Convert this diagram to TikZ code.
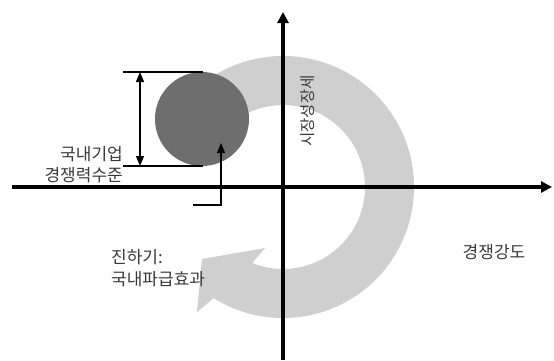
\documentclass[tikz,border=0pt]{standalone}
\usepackage{fontspec}
\setmainfont{Noto Sans CJK KR}
\usetikzlibrary{arrows.meta}
\definecolor{bandgray}{HTML}{CFCFCF}
\definecolor{dotgray}{HTML}{6E6E6E}
\definecolor{txtgray}{HTML}{3A3A3A}
\begin{document}
\begin{tikzpicture}[x=1pt,y=1pt,
  axisline/.style={line width=3.2pt,-{Triangle[length=11pt,width=11pt]}},
  thinline/.style={line width=1.1pt},
  dimarrow/.style={line width=1.4pt,{Triangle[length=10pt,width=8pt]}-{Triangle[length=10pt,width=8pt]}},
  pointer/.style={line width=1.1pt,-{Triangle[length=10pt,width=8pt]}},
  lbl/.style={text=txtgray,inner sep=0pt,font=\fontsize{17}{22}\selectfont},
  vlbl/.style={text=txtgray,inner sep=0pt,font=\fontsize{15.5}{20}\selectfont}]
\useasboundingbox (0,0) rectangle (554,360);
\fill[white] (0,0) rectangle (554,360);
% origin
\coordinate (O) at (283,173);
% grey circular arrow band
\fill[bandgray] ([shift={(283,173)}]125:131) arc[start angle=125,end angle=-122,radius=131]
  -- (197,48) -- (202,101) -- (265,112)
  -- ([shift={(283,173)}]-112:82) arc[start angle=-112,end angle=125,radius=82] -- cycle;
% axes
\coordinate (xl) at (12,173);
\coordinate (xr) at (552,173);
\coordinate (yb) at (283,0);
\coordinate (yt) at (283,348);
\draw[axisline] (xl) -- (xr);
\draw[axisline] (yb) -- (yt);
% dark circle
\node[circle,fill=dotgray,minimum size=94pt,inner sep=0pt] (dot) at (202,241) {};
% dimension lines
\coordinate (t1) at (123,288);
\coordinate (t2) at (203,288);
\coordinate (b1) at (123,194);
\coordinate (b2) at (203,194);
\draw[thinline] (t1) -- (t2);
\draw[thinline] (b1) -- (b2);
\coordinate (da) at (140,288);
\coordinate (db) at (140,194);
\draw[dimarrow] (da) -- (db);
% pointer
\coordinate (p0) at (193,155);
\coordinate (p1) at (221,155);
\coordinate (p2) at (221,217);
\draw[pointer] (p0) -- (p1) -- (p2);
% labels
\node[lbl,anchor=base east] (lblA1) at (123,200) {국내기업};
\node[lbl,anchor=base east] (lblA2) at (123,179) {경쟁력수준};
\node[vlbl,rotate=90] (lblB) at (307.5,249) {시장성장세};
\node[lbl,anchor=base] (lblC) at (494,102) {경쟁강도};
\node[lbl,anchor=base west] (lblD1) at (111,97) {진하기:};
\node[lbl,anchor=base west] (lblD2) at (111,75) {국내파급효과};
\end{tikzpicture}
\end{document}
